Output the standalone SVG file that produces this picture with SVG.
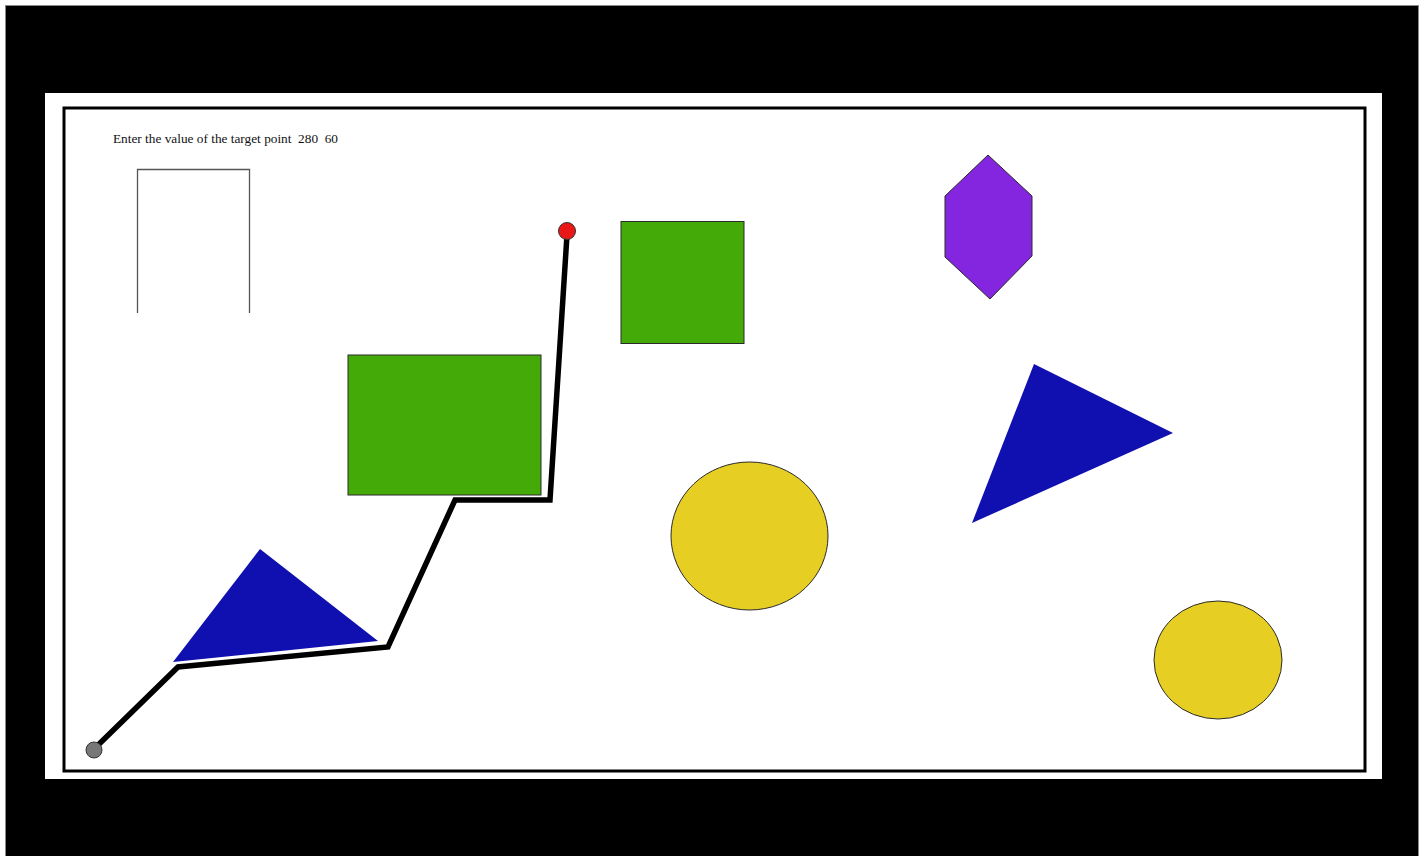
<svg xmlns="http://www.w3.org/2000/svg" width="1426" height="856" viewBox="0 0 1426 856">
<style>
.shape{stroke:#2a2a2a;stroke-width:1}
.blue{fill:#1010B0}
.green{fill:#44AA08}
.yellow{fill:#E6CF22}
.purple{fill:#8426E0}
.route{fill:none;stroke:#000;stroke-width:5.5;stroke-linejoin:miter}
.lbl{font-family:"Liberation Serif",serif;font-size:13.3px;fill:#111;white-space:pre}
</style>
<rect x="0" y="0" width="1426" height="856" fill="#fff"/>
<rect x="5.5" y="5.5" width="1413" height="852" fill="#000" stroke="#888" stroke-width="1"/>
<rect x="45" y="93" width="1337" height="686" fill="#fff"/>
<rect x="64" y="108" width="1301" height="663" fill="#fff" stroke="#000" stroke-width="3"/>
<g id="label"><text class="lbl" x="113" y="143" xml:space="preserve">Enter the value of the target point  280  60</text></g>
<g id="openbox"><path d="M137.5 313 V169.5 H249.5 V313" fill="none" stroke="#555" stroke-width="1.3"/></g>
<g id="green1"><rect class="shape green" x="348" y="355" width="193" height="140"/></g>
<g id="green2"><rect class="shape green" x="621" y="221.5" width="123" height="122"/></g>
<g id="yellow1"><ellipse class="shape yellow" cx="749.5" cy="536" rx="78.5" ry="74"/></g>
<g id="yellow2"><ellipse class="shape yellow" cx="1218" cy="660" rx="64" ry="59"/></g>
<g id="blue1"><polygon class="blue" points="173,662 260,549 378,641"/></g>
<g id="blue2"><polygon class="blue" points="1034,364 1173,433 972,523"/></g>
<g id="hexagon"><polygon class="shape purple" points="988,155 1032,196 1032,256 990,299 945,257 945,196"/></g>
<g id="connectors">
<polyline class="route" points="94,749 178,667 388,647 455,500 550,500 567,235"/>
</g>
<g id="start"><circle cx="94" cy="750" r="8" fill="#777" stroke="#333" stroke-width="1"/></g>
<g id="target"><circle cx="567" cy="231" r="8.5" fill="#E81818" stroke="#333" stroke-width="1"/></g>
</svg>
